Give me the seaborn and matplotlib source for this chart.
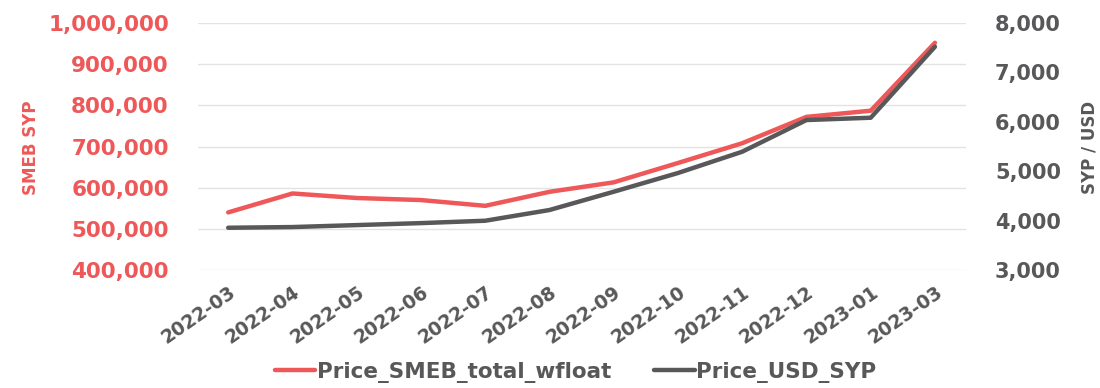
import matplotlib
matplotlib.use("Agg")
import matplotlib.pyplot as plt
import matplotlib.ticker as mticker
import seaborn as sns
import pandas as pd

# Monthly series
months = ["2022-03", "2022-04", "2022-05", "2022-06", "2022-07", "2022-08",
          "2022-09", "2022-10", "2022-11", "2022-12", "2023-01", "2023-03"]
smeb_syp = [540000, 586000, 575000, 570000, 556000, 590000,
            613000, 660000, 708000, 772000, 787000, 952000]
usd_syp = [3856, 3870, 3910, 3950, 3998, 4215,
           4585, 4964, 5395, 6036, 6083, 7520]

smeb_name = "Price_SMEB_total_wfloat"
usd_name = "Price_USD_SYP"

RED = "#EE5859"
GREY = "#58585A"

sns.set_theme(style="white")
plt.rcParams["font.family"] = ["DejaVu Sans"]
plt.rcParams["font.weight"] = "bold"

df = pd.DataFrame({"month": months, smeb_name: smeb_syp, usd_name: usd_syp})

fig = plt.figure(figsize=(11, 3.88), dpi=100)
ax = fig.add_axes([0.18, 0.304, 0.698, 0.6367])
ax2 = ax.twinx()

sns.lineplot(data=df, x="month", y=smeb_name, ax=ax, color=RED,
             linewidth=3.2, sort=False, label=smeb_name, legend=False)
sns.lineplot(data=df, x="month", y=usd_name, ax=ax2, color=GREY,
             linewidth=3.2, sort=False, label=usd_name, legend=False)

ax.set_xlim(-0.47, len(months) - 0.52)
ax.set_ylim(400000, 1000000)
ax2.set_ylim(3000, 8000)
ax.yaxis.set_major_locator(mticker.MultipleLocator(100000))
ax2.yaxis.set_major_locator(mticker.MultipleLocator(1000))
fmt = mticker.FuncFormatter(lambda v, p: f"{v:,.0f}")
ax.yaxis.set_major_formatter(fmt)
ax2.yaxis.set_major_formatter(fmt)

ax.grid(axis="y", color="#E3E3E3", linewidth=1.0)
ax.grid(axis="x", visible=False)
ax2.grid(False)
for a in (ax, ax2):
    for s in a.spines.values():
        s.set_visible(False)

ax.tick_params(axis="y", length=0, pad=21, labelsize=15.5, labelcolor=RED)
ax2.tick_params(axis="y", length=0, pad=21, labelsize=15, labelcolor=GREY)
ax.tick_params(axis="x", length=0, pad=9, labelsize=13.5, labelcolor=GREY)
for lbl in ax.get_xticklabels():
    lbl.set_rotation(35)
    lbl.set_ha("right")
    lbl.set_rotation_mode("anchor")
    lbl.set_fontweight("bold")
for lbl in ax.get_yticklabels() + ax2.get_yticklabels():
    lbl.set_fontweight("bold")

ax.set_xlabel("")
ax.set_ylabel("")
ax2.set_ylabel("")
fig.text(0.028, 0.62, "SMEB SYP", rotation=90, color=RED, fontsize=12,
         fontweight="bold", ha="center", va="center")
fig.text(0.99, 0.62, "SYP / USD", rotation=90, color=GREY, fontsize=12,
         fontweight="bold", ha="center", va="center")

h1, l1 = ax.get_legend_handles_labels()
h2, l2 = ax2.get_legend_handles_labels()
leg = fig.legend(h1 + h2, l1 + l2, loc="center", ncol=2,
                 bbox_to_anchor=(0.523, 0.04), frameon=False,
                 handlelength=1.9, handletextpad=0.05, columnspacing=2.0,
                 prop={"size": 15.5, "weight": "bold"})
for t in leg.get_texts():
    t.set_color(GREY)

ax2.set_zorder(ax.get_zorder() + 1)
ax2.patch.set_visible(False)

fig.savefig("out.png", dpi=100)
